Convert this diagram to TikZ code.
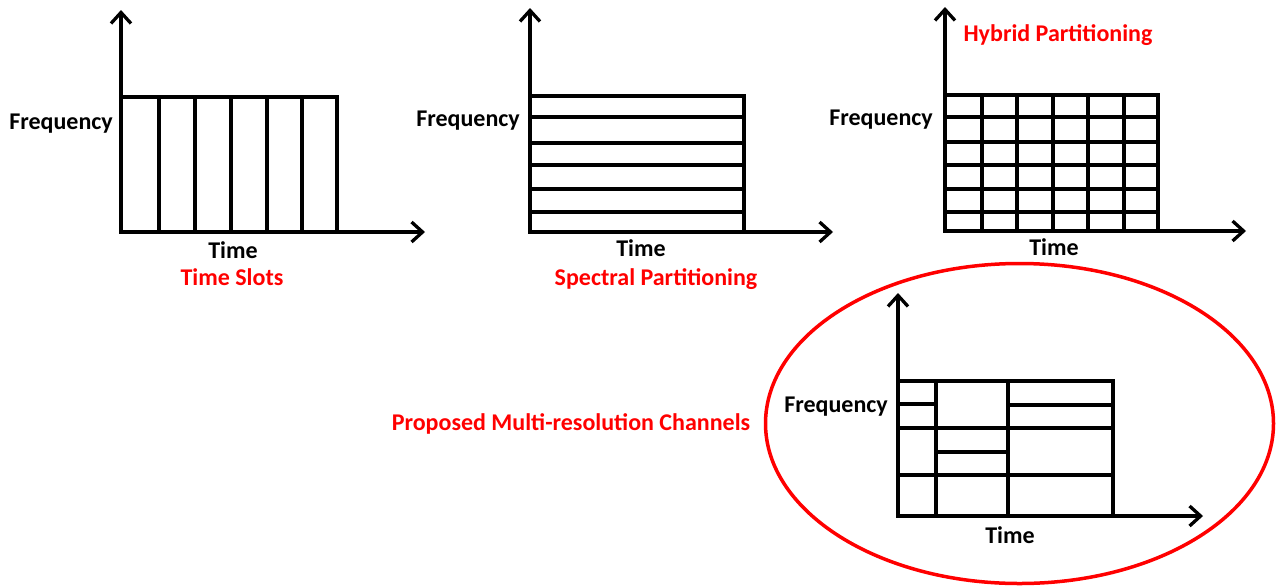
\documentclass[tikz,border=0pt]{standalone}
\usepackage{fontspec}
\setmainfont{Carlito}
\usetikzlibrary{arrows.meta}
\begin{document}
\begin{tikzpicture}[x=1pt,y=-1pt,
  axisline/.style={line width=3.3pt,-{Straight Barb[length=11pt,width=20pt,line width=3.3pt]}},
  cell/.style={line width=3.3pt},
  lbl/.style={font=\fontsize{24}{28}\selectfont\bfseries, inner sep=0pt, anchor=mid},
  redlbl/.style={lbl, text=red}]
\useasboundingbox (0,0) rectangle (1282,587);

% ---------- Diagram 1: Time Slots ----------
\coordinate (o1) at (121,232);
\coordinate (o1x) at (119.5,232);
\coordinate (y1) at (121,10);
\coordinate (x1) at (425,232);
\draw[cell] (121,97) rectangle (337,232);
\foreach \x in {159,195,231,267,302} \draw[cell] (\x,97) -- (\x,232);
\draw[axisline] (o1) -- (y1);
\draw[axisline] (o1x) -- (x1);
\node[lbl, anchor=mid east] (f1) at (113,127) {Frequency};
\node[lbl] (t1) at (233,256) {Time};
\node[redlbl] (c1) at (232,283) {Time Slots};

% ---------- Diagram 2: Spectral Partitioning ----------
\coordinate (o2) at (530,232);
\coordinate (o2x) at (528.5,232);
\coordinate (y2) at (530,8);
\coordinate (x2) at (833,232);
\draw[cell] (530,96) rectangle (744,232);
\foreach \y in {117,143,165,189,212} \draw[cell] (530,\y) -- (744,\y);
\draw[axisline] (o2) -- (y2);
\draw[axisline] (o2x) -- (x2);
\node[lbl, anchor=mid east] (f2) at (520,124) {Frequency};
\node[lbl] (t2) at (641,254) {Time};
\node[redlbl] (c2) at (656,283) {Spectral Partitioning};

% ---------- Diagram 3: Hybrid Partitioning ----------
\coordinate (o3) at (945,231);
\coordinate (o3x) at (943.5,231);
\coordinate (y3) at (945,7);
\coordinate (x3) at (1246,231);
\draw[cell] (945,95) rectangle (1158,231);
\foreach \x in {982,1017,1053,1088,1124} \draw[cell] (\x,95) -- (\x,231);
\foreach \y in {117,142,165,189,212} \draw[cell] (945,\y) -- (1158,\y);
\draw[axisline] (o3) -- (y3);
\draw[axisline] (o3x) -- (x3);
\node[lbl, anchor=mid east] (f3) at (933,123) {Frequency};
\node[lbl] (t3) at (1054,253) {Time};
\node[redlbl] (c3) at (1058,39) {Hybrid Partitioning};

% ---------- Diagram 4: Proposed Multi-resolution Channels ----------
\coordinate (o4) at (898,516);
\coordinate (o4x) at (896.5,516);
\coordinate (y4) at (898,293);
\coordinate (x4) at (1203,516);
\draw[cell] (898,381) rectangle (1113,516);
\draw[cell] (936,381) -- (936,516);
\draw[cell] (1008,381) -- (1008,516);
\draw[cell] (898,404) -- (936,404);
\draw[cell] (1008,405) -- (1113,405);
\draw[cell] (898,428) -- (1113,428);
\draw[cell] (936,452) -- (1008,452);
\draw[cell] (898,475) -- (1113,475);
\draw[axisline] (o4) -- (y4);
\draw[axisline] (o4x) -- (x4);
\node[lbl, anchor=mid east] (f4) at (888,410) {Frequency};
\node[lbl] (t4) at (1010,541) {Time};
\node[redlbl] (c4) at (571,428) {Proposed Multi-resolution Channels};
\draw[red, line width=3.5pt] (1019.5,423.5) ellipse [x radius=254, y radius=160];
\end{tikzpicture}
\end{document}
